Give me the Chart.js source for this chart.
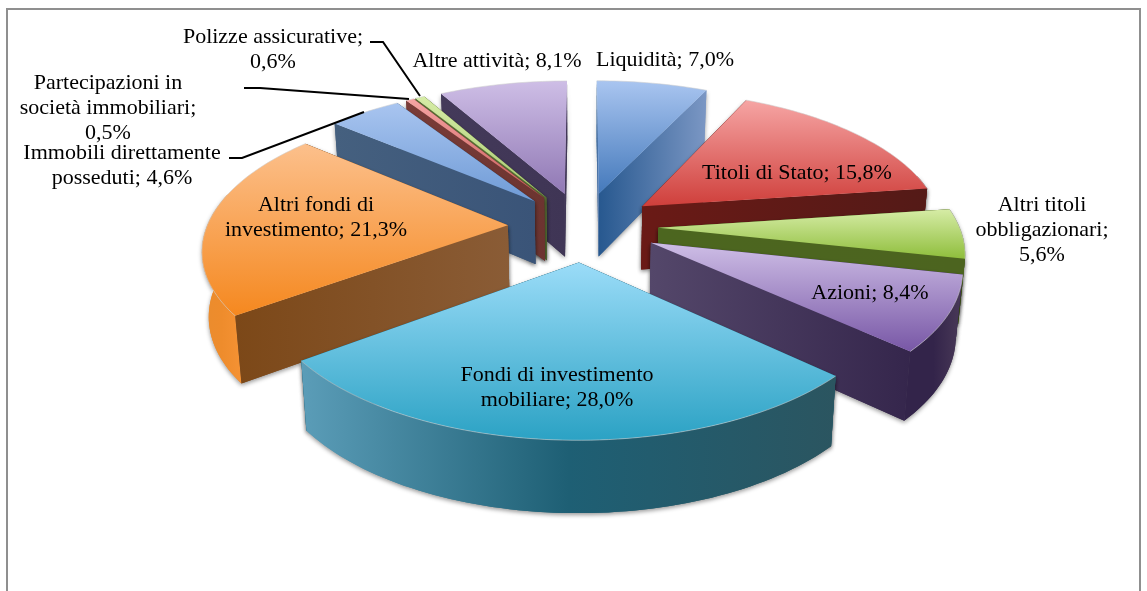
<!DOCTYPE html>
<html><head><meta charset="utf-8">
<style>html,body{margin:0;padding:0;background:#fff}canvas{display:block}</style>
<script src="https://cdn.jsdelivr.net/npm/chart.js@4"></script>
</head><body><canvas id="c" width="1147" height="591"></canvas>
<script>
const categories = ['Liquidità','Titoli di Stato','Altri titoli|obbligazionari','Azioni','Fondi di investimento|mobiliare','Altri fondi di|investimento','Immobili direttamente|posseduti','Partecipazioni in|società immobiliari','Polizze assicurative','Altre attività'];
const values = [7.0,15.8,5.6,8.4,28.0,21.3,4.6,0.5,0.6,8.1];
const valueOnNewLine = [false,false,true,false,false,false,false,true,true,false];
const labelCentres = [[665,60],[797,173],[1042,205],[870,293],[557,375],[316,205],[122,153],[108,83],[273,37],[497,61]];
const baseColours = ['#4f81bd','#c0504d','#9bbb59','#8064a2','#4bacc6','#f79646','#4f81bd','#c0504d','#9bbb59','#8064a2'];
const faceTop = ['#a9c5f0','#f6a5a4','#d6eca6','#cebee6','#9bdcf8','#fcc08c','#a9c5f0','#f6a5a4','#d6eca6','#cebee6'];
const faceBottom = ['#4479bb','#cf3f3b','#8fbe3c','#7857a6','#2ba2c4','#f5881f','#6f9bd6','#c85a56','#a8cc70','#9078b4'];
const radialLeft = ['#27588f','#6a1a16','#4c661f','#54476a','#1d5d72','#7c4818','#45607f','#7a3c38','#5b7035','#443a5a'];
const radialRight = ['#7b97c4','#541a17','#4c641f','#35264c','#1d5d72','#8a5c36','#3a5478','#6c3430','#5b7035','#3f3555'];
const outerLeft = ['#27588f','#6a1a16','#4c641f','#33244a','#5b9db8','#ea8c2e','#45607f','#7a3c38','#5b7035','#443a5a'];
const outerMid = ['#27588f','#6a1a16','#4c641f','#33244a','#1e5f74','#ee8c2c','#45607f','#7a3c38','#5b7035','#443a5a'];
const outerRight = ['#27588f','#6a1a16','#4c641f','#4a3a58','#2b5560','#f59234','#45607f','#7a3c38','#5b7035','#443a5a'];
const leaders = [[[370,42],[383,42],[420,96]],[[244,88],[260,88],[409,99]],[[229,158],[242,158],[364,112]]];

const PROJ = {cx:583, cy:226.5, R:301, Ry:139, k:0.15, depth:64, converge:0.982};
function project(u,v,bottom){
  const p = 1/(1-PROJ.k*v);
  let x = PROJ.cx + PROJ.R*u*p, y = PROJ.cy + PROJ.Ry*v*p;
  if(bottom){ x = PROJ.cx + (x-PROJ.cx)*PROJ.converge; y += PROJ.depth*(0.4+0.6*p); }
  return [x,y];
}
function tracePoly(ctx,pts){ ctx.beginPath(); pts.forEach((q,i)=> i?ctx.lineTo(q[0],q[1]):ctx.moveTo(q[0],q[1])); ctx.closePath(); }
function hGrad(ctx,pts,stops){
  const xs = pts.map(q=>q[0]); const g = ctx.createLinearGradient(Math.min(...xs),0,Math.max(...xs)+0.01,0);
  stops.forEach((c,i)=>g.addColorStop(i/(stops.length-1),c)); return g;
}
function label(i){
  const parts = categories[i].split('|');
  const val = values[i].toFixed(1).replace('.',',')+'%';
  if(valueOnNewLine[i]){ parts[parts.length-1]+=';'; parts.push(val); }
  else parts[parts.length-1]+='; '+val;
  return parts;
}
const pie3d = {
  id:'pie3d',
  beforeDraw(chart){
    const c = chart.ctx; c.save(); c.fillStyle='#fff'; c.fillRect(0,0,1147,591);
    c.strokeStyle='#8f8f8f'; c.lineWidth=2; c.beginPath(); c.moveTo(7,600); c.lineTo(7,9); c.lineTo(1140,9); c.lineTo(1140,600); c.stroke(); c.restore();
  },
  beforeDatasetsDraw(chart){
    const c = chart.ctx, arcs = chart.getDatasetMeta(0).data;
    const order = arcs.map((a,i)=>{
      const mid=(a.startAngle+a.endAngle)/2; return {a,i,mid,v:Math.sin(mid)};
    }).sort((x,y)=>x.v-y.v);
    order.forEach(({a,i,mid,v})=>{
      const d = a.options.offset/a.outerRadius;
      const ox = Math.cos(mid)*d, oy = Math.sin(mid)*d;
      const n = Math.max(3,Math.ceil((a.endAngle-a.startAngle)*40));
      const ang = []; for(let j=0;j<=n;j++) ang.push(a.startAngle+(a.endAngle-a.startAngle)*j/n);
      const top = ang.map(t=>project(ox+Math.cos(t),oy+Math.sin(t),false));
      const bot = ang.map(t=>project(ox+Math.cos(t),oy+Math.sin(t),true));
      const A = project(ox,oy,false), Ab = project(ox,oy,true);
      const M = top[Math.floor(n/2)];
      const walls = [];
      const outer = ()=>{
        const keep = ang.map((t,j)=>j).filter(j=>Math.sin(ang[j])>-0.25);
        if(keep.length<2) return;
        const pts = keep.map(j=>top[j]).concat(keep.map(j=>bot[j]).reverse());
        walls.push({pts,stops:[outerLeft[i],outerMid[i],outerRight[i]]});
      };
      const isVisible = (B)=>{
        const dx=B[0]-A[0]; if(Math.abs(dx)<4) return false;
        const lineY=A[1]+(M[0]-A[0])*(B[1]-A[1])/dx;
        return M[1]<lineY;
      };
      const radial = e => walls.push({pts:[A,e[0],e[1],Ab],stops:[radialLeft[i],radialRight[i]]});
      const edges=[[top[0],bot[0]],[top[n],bot[n]]];
      edges.filter(e=>!isVisible(e[0])).forEach(radial);
      if(v<0){ outer(); edges.filter(e=>isVisible(e[0])).forEach(radial); }
      else { edges.filter(e=>isVisible(e[0])).forEach(radial); outer(); }
      // soft shadow first, then the walls again without it so no seam shows between them
      walls.forEach(w=>{ c.save(); c.shadowColor='rgba(0,0,0,.4)'; c.shadowBlur=4; c.shadowOffsetY=2;
        tracePoly(c,w.pts); c.fillStyle=hGrad(c,w.pts,w.stops); c.fill(); c.restore(); });
      walls.forEach(w=>{ tracePoly(c,w.pts); c.fillStyle=hGrad(c,w.pts,w.stops); c.fill(); });
      const face=[A].concat(top);
      const ys=face.map(q=>q[1]);
      const g=c.createLinearGradient(0,Math.min(...ys),0,Math.max(...ys));
      g.addColorStop(0,faceTop[i]); g.addColorStop(1,faceBottom[i]);
      tracePoly(c,face); c.fillStyle=g; c.fill();
      c.beginPath(); top.forEach((q,j)=> j?c.lineTo(q[0],q[1]):c.moveTo(q[0],q[1]));
      c.strokeStyle='rgba(205,205,205,.55)'; c.lineWidth=1; c.stroke();
    });
    return false;
  },
  afterDraw(chart){
    const c = chart.ctx; c.save();
    c.strokeStyle='#000'; c.lineWidth=2;
    leaders.forEach(l=>{ c.beginPath(); l.forEach((q,j)=> j?c.lineTo(q[0],q[1]):c.moveTo(q[0],q[1])); c.stroke(); });
    c.fillStyle='#000'; c.font='22px "Liberation Serif"'; c.textAlign='center'; c.textBaseline='middle';
    categories.forEach((_,i)=>{
      label(i).forEach((t,j)=> c.fillText(t,labelCentres[i][0],labelCentres[i][1]+j*25.2));
    });
    c.restore();
  }
};
new Chart(document.getElementById('c'),{
  type:'pie',
  data:{labels:categories.map(s=>s.replace('|',' ')),datasets:[{data:values,backgroundColor:baseColours,borderWidth:0,offset:60}]},
  options:{responsive:false,animation:false,radius:240,plugins:{legend:{display:false},tooltip:{enabled:false}}},
  plugins:[pie3d]
});
</script></body></html>
